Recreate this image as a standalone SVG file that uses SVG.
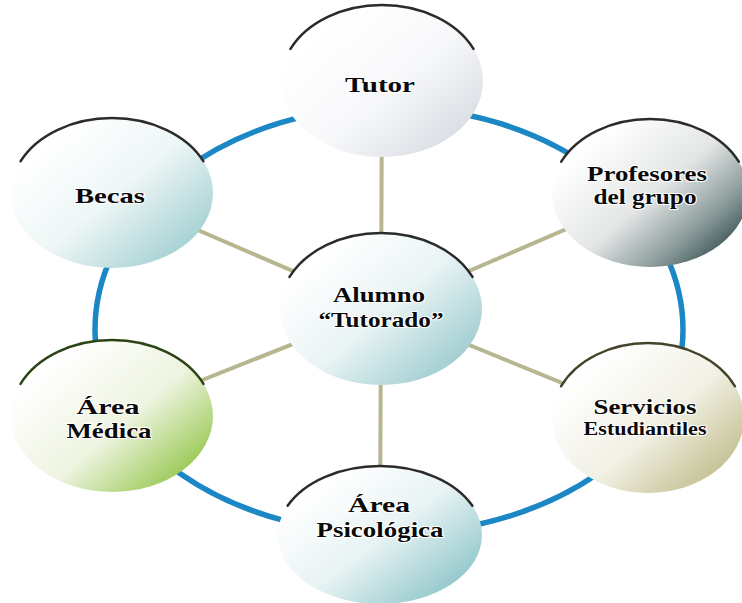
<svg xmlns="http://www.w3.org/2000/svg" width="742" height="603" viewBox="0 0 742 603">
<style>
.node-fill{stroke:none}
.rim{fill:none;stroke:#2b2b2b;stroke-width:2.5;stroke-linecap:round}
.lbl{font-family:"Liberation Serif","Times New Roman",serif;font-weight:bold;font-size:22px;fill:#0a0a0a;text-anchor:middle;stroke:#ffffff;stroke-width:2;paint-order:stroke;stroke-linejoin:round}
.small{font-size:18px}
.ring{fill:none;stroke:#1b87c4;stroke-width:5.5}
.spoke{stroke:#b7b690;stroke-width:4;fill:none}
</style>
<defs>
<linearGradient id="gTutor" x1="0.15" y1="0.2" x2="0.95" y2="0.9"><stop offset="0" stop-color="#ffffff"/><stop offset="0.5" stop-color="#f7f8fa"/><stop offset="1" stop-color="#d5d9e0"/></linearGradient>
<linearGradient id="gProf" x1="0.15" y1="0.2" x2="0.95" y2="0.9"><stop offset="0" stop-color="#ffffff"/><stop offset="0.45" stop-color="#e4e6e6"/><stop offset="0.75" stop-color="#8a9a9a"/><stop offset="1" stop-color="#2a4444"/></linearGradient>
<linearGradient id="gBecas" x1="0.15" y1="0.2" x2="0.95" y2="0.9"><stop offset="0" stop-color="#ffffff"/><stop offset="0.45" stop-color="#eef6f6"/><stop offset="1" stop-color="#9acbce"/></linearGradient>
<linearGradient id="gAlumno" x1="0.15" y1="0.2" x2="0.95" y2="0.9"><stop offset="0" stop-color="#ffffff"/><stop offset="0.45" stop-color="#eaf4f5"/><stop offset="1" stop-color="#94c7cb"/></linearGradient>
<linearGradient id="gMedica" x1="0.15" y1="0.2" x2="0.95" y2="0.9"><stop offset="0" stop-color="#ffffff"/><stop offset="0.5" stop-color="#eef4e0"/><stop offset="1" stop-color="#8cc23e"/></linearGradient>
<linearGradient id="gServ" x1="0.15" y1="0.2" x2="0.95" y2="0.9"><stop offset="0" stop-color="#ffffff"/><stop offset="0.5" stop-color="#f1f0e4"/><stop offset="1" stop-color="#bdb884"/></linearGradient>
<linearGradient id="gPsico" x1="0.15" y1="0.2" x2="0.95" y2="0.9"><stop offset="0" stop-color="#ffffff"/><stop offset="0.45" stop-color="#e8f3f4"/><stop offset="1" stop-color="#86c1c5"/></linearGradient>
</defs>
<rect width="742" height="603" fill="#ffffff"/>
<g id="connectors">
<path class="ring" d="M 95 330 A 294 223 0 0 1 683 330 A 294 204 0 0 1 95 330 Z"/>
<line class="spoke" x1="381" y1="309" x2="382" y2="81"/>
<line class="spoke" x1="381" y1="309" x2="112" y2="193"/>
<line class="spoke" x1="381" y1="309" x2="650" y2="193"/>
<line class="spoke" x1="381" y1="309" x2="112" y2="416"/>
<line class="spoke" x1="381" y1="309" x2="648" y2="418"/>
<line class="spoke" x1="381" y1="309" x2="380" y2="535"/>
</g>
<g id="tutor">
<ellipse class="node-fill" cx="382" cy="81" rx="101" ry="76" fill="url(#gTutor)"/>
<path class="rim" d="M 290.5 48.9 A 101 76 0 0 1 473.5 48.9"/>
<text class="lbl" x="380" y="92" textLength="70" lengthAdjust="spacingAndGlyphs">Tutor</text>
</g>
<g id="profesores">
<ellipse class="node-fill" cx="650" cy="193" rx="98" ry="74" fill="url(#gProf)"/>
<path class="rim" d="M 561.2 161.7 A 98 74 0 0 1 738.8 161.7"/>
<text class="lbl" x="647" y="181" textLength="120" lengthAdjust="spacingAndGlyphs">Profesores</text>
<text class="lbl" x="645" y="204" textLength="103" lengthAdjust="spacingAndGlyphs">del grupo</text>
</g>
<g id="becas">
<ellipse class="node-fill" cx="112" cy="193" rx="101" ry="75" fill="url(#gBecas)"/>
<path class="rim" d="M 20.5 161.3 A 101 75 0 0 1 203.5 161.3"/>
<text class="lbl" x="110" y="203" textLength="70" lengthAdjust="spacingAndGlyphs">Becas</text>
</g>
<g id="alumno">
<ellipse class="node-fill" cx="381" cy="309" rx="101" ry="76" fill="url(#gAlumno)"/>
<path class="rim" d="M 289.5 276.9 A 101 76 0 0 1 472.5 276.9"/>
<text class="lbl" x="379" y="302" textLength="92" lengthAdjust="spacingAndGlyphs">Alumno</text>
<text class="lbl" x="381" y="327" textLength="125" lengthAdjust="spacingAndGlyphs">“Tutorado”</text>
</g>
<g id="area-medica">
<ellipse class="node-fill" cx="112" cy="416" rx="101" ry="76" fill="url(#gMedica)"/>
<path class="rim" d="M 20.5 383.9 A 101 76 0 0 1 203.5 383.9" style="stroke:#2c4414"/>
<text class="lbl" x="108" y="414" textLength="63" lengthAdjust="spacingAndGlyphs">Área</text>
<text class="lbl" x="109" y="438" textLength="85" lengthAdjust="spacingAndGlyphs">Médica</text>
</g>
<g id="servicios">
<ellipse class="node-fill" cx="648" cy="418" rx="96" ry="75" fill="url(#gServ)"/>
<path class="rim" d="M 561 386.3 A 96 75 0 0 1 735 386.3" style="stroke:#45432c"/>
<text class="lbl" x="645" y="414" textLength="103" lengthAdjust="spacingAndGlyphs">Servicios</text>
<text class="lbl small" x="645" y="435" textLength="123" lengthAdjust="spacingAndGlyphs">Estudiantiles</text>
</g>
<g id="area-psicologica">
<ellipse class="node-fill" cx="380" cy="535" rx="102" ry="69" fill="url(#gPsico)"/>
<path class="rim" d="M 287.6 505.8 A 102 69 0 0 1 472.4 505.8"/>
<text class="lbl" x="379" y="512" textLength="62" lengthAdjust="spacingAndGlyphs">Área</text>
<text class="lbl" x="380" y="537" textLength="127" lengthAdjust="spacingAndGlyphs">Psicológica</text>
</g>
</svg>
